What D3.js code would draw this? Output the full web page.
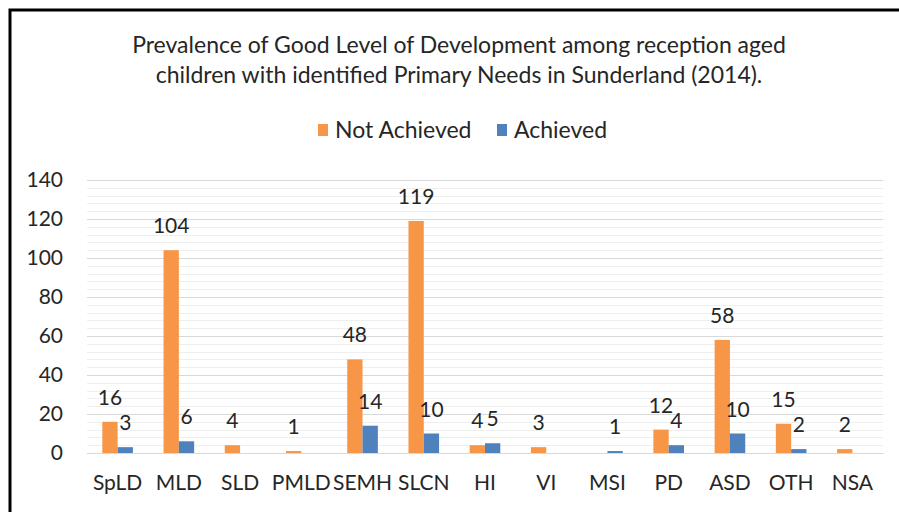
<!DOCTYPE html>
<html>
<head>
<meta charset="utf-8">
<script src="https://cdn.jsdelivr.net/npm/d3@7"></script>
<style>
  body { margin: 0; background: #fff; }
  svg text { font-family: Lato, "Open Sans", sans-serif; fill: #262626; }
</style>
</head>
<body>
<div id="chart"></div>
<script>
// data
const categories = ["SpLD", "MLD", "SLD", "PMLD", "SEMH", "SLCN", "HI", "VI", "MSI", "PD", "ASD", "OTH", "NSA"];
const notAchieved = [16, 104, 4, 1, 48, 119, 4, 3, 0, 12, 58, 15, 2];
const achieved = [3, 6, 0, 0, 14, 10, 5, 0, 1, 4, 10, 2, 0];
const seriesNames = ["Not Achieved", "Achieved"];
const seriesColors = ["#f79646", "#4f81bd"];
const yTicks = [0, 20, 40, 60, 80, 100, 120, 140];
const titleLines = [
    "Prevalence of Good Level of Development among reception aged",
    "children with identified Primary Needs in Sunderland (2014)."
];

const W = 899, H = 512;
const margin = { top: 180, right: 16, bottom: 59, left: 87 };
const width = W - margin.left - margin.right;
const height = H - margin.top - margin.bottom;

const svg = d3.select("#chart")
    .append("svg")
    .attr("width", W)
    .attr("height", H);

// frame (the picture is cropped, only top and left edges show)
svg.append("path")
    .attr("d", `M10,${H} V10 H${W}`)
    .attr("fill", "none")
    .attr("stroke", "#000")
    .attr("stroke-width", 3);

// title
svg.selectAll(".title")
    .data(titleLines)
    .enter()
    .append("text")
    .attr("x", 459)
    .attr("y", (d, i) => 53 + i * 30)
    .attr("text-anchor", "middle")
    .style("font-size", "23px")
    .text(d => d);

const g = svg.append("g")
    .attr("transform", "translate(" + margin.left + "," + margin.top + ")");

const y = d3.scaleLinear()
    .domain([0, 140])
    .range([height, 0]);

const x = d3.scaleBand()
    .domain(categories)
    .range([0, width]);

const x1 = d3.scaleBand()
    .domain(seriesNames)
    .range([x.bandwidth() * 0.25, x.bandwidth() * 0.75]);

// minor gridlines every 4
g.append("g")
    .selectAll("line")
    .data(d3.range(0, 141, 4).filter(v => v % 20 !== 0))
    .enter()
    .append("line")
    .attr("x1", 0)
    .attr("x2", width)
    .attr("y1", d => Math.round(y(d)) + 0.5)
    .attr("y2", d => Math.round(y(d)) + 0.5)
    .attr("stroke", "#efefef");

// major gridlines + y labels
const yAxis = g.append("g")
    .call(d3.axisLeft(y).tickValues(yTicks).tickSize(-width).tickPadding(24));
yAxis.select(".domain").remove();
yAxis.selectAll(".tick line").attr("stroke", "#d9d9d9");
yAxis.selectAll(".tick text")
    .style("font-size", "21px")
    .attr("fill", "#262626");

// x axis
const xAxis = g.append("g")
    .attr("transform", "translate(0," + height + ")")
    .call(d3.axisBottom(x).tickSize(0).tickPadding(22));
xAxis.select(".domain").attr("stroke", "#d9d9d9");
xAxis.selectAll(".tick text")
    .style("font-size", "21px")
    .attr("fill", "#262626");

const rows = categories.map((c, i) => ({
    name: c,
    values: [
        { key: seriesNames[0], value: notAchieved[i] },
        { key: seriesNames[1], value: achieved[i] }
    ]
}));

const groups = g.selectAll(".grp")
    .data(rows)
    .enter()
    .append("g")
    .attr("transform", d => "translate(" + x(d.name) + ",0)");

groups.selectAll("rect")
    .data(d => d.values)
    .enter()
    .append("rect")
    .attr("x", d => x1(d.key))
    .attr("y", d => y(d.value))
    .attr("width", x1.bandwidth())
    .attr("height", d => height - y(d.value))
    .attr("fill", (d, i) => seriesColors[i]);

// data labels (zeros are left blank)
groups.selectAll(".lbl")
    .data(d => d.values.filter(v => v.value > 0))
    .enter()
    .append("text")
    .attr("x", d => x1(d.key) + x1.bandwidth() / 2)
    .attr("y", d => y(d.value) - 17)
    .attr("text-anchor", "middle")
    .style("font-size", "21px")
    .text(d => d.value);

// legend
const legend = svg.append("g")
    .attr("transform", "translate(318,130)");
const lx = [0, 179];
seriesNames.forEach((s, i) => {
    legend.append("rect")
        .attr("x", lx[i])
        .attr("y", -6)
        .attr("width", 10)
        .attr("height", 12)
        .attr("fill", seriesColors[i]);
    legend.append("text")
        .attr("x", lx[i] + 17)
        .attr("y", 8)
        .style("font-size", "23px")
        .text(s);
});
</script>
</body>
</html>
